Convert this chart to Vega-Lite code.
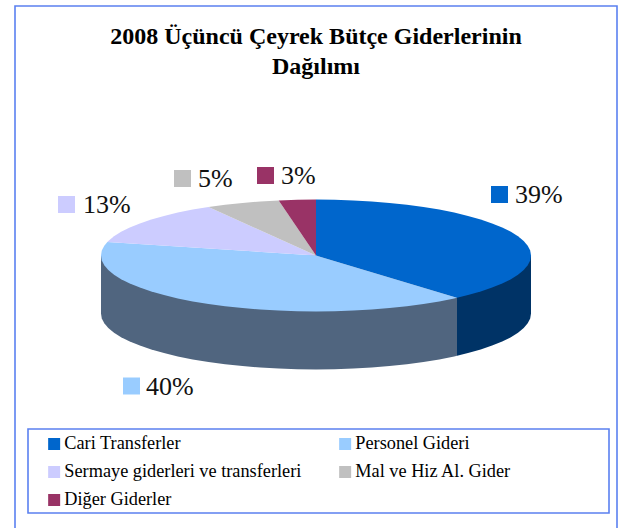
{"$schema":"https://vega.github.io/schema/vega-lite/v6.json","width":618,"height":528,"padding":0,"autosize":{"type":"none"},"background":"white","config":{"view":{"stroke":null},"font":"Liberation Serif"},"title":{"text":["2008 Üçüncü Çeyrek Bütçe Giderlerinin","Dağılımı"],"anchor":"middle","frame":"group","dx":7,"dy":102,"fontSize":24,"fontWeight":"bold","font":"Liberation Serif","color":"black","lineHeight":30,"baseline":"alphabetic"},"datasets":{"frames":[{"name":"outer","x":15,"x2":617,"y":6,"y2":540},{"name":"legend","x":28,"x2":609,"y":429,"y2":513}],"side":[{"s":"Cari Transferler (yan)","i":0,"x":316,"y":255.5},{"s":"Cari Transferler (yan)","i":1,"x":531,"y":255.5},{"s":"Cari Transferler (yan)","i":2,"x":531,"y":313.5},{"s":"Cari Transferler (yan)","i":3,"x":530.2,"y":318.4},{"s":"Cari Transferler (yan)","i":4,"x":527.7,"y":323.2},{"s":"Cari Transferler (yan)","i":5,"x":523.7,"y":328},{"s":"Cari Transferler (yan)","i":6,"x":518,"y":332.7},{"s":"Cari Transferler (yan)","i":7,"x":510.9,"y":337.2},{"s":"Cari Transferler (yan)","i":8,"x":502.2,"y":341.5},{"s":"Cari Transferler (yan)","i":9,"x":492.1,"y":345.6},{"s":"Cari Transferler (yan)","i":10,"x":480.7,"y":349.5},{"s":"Cari Transferler (yan)","i":11,"x":468,"y":353.1},{"s":"Cari Transferler (yan)","i":12,"x":457,"y":355.8},{"s":"Cari Transferler (yan)","i":13,"x":457,"y":297.8},{"s":"Personel Gideri (yan)","i":0,"x":316,"y":255.5},{"s":"Personel Gideri (yan)","i":1,"x":457,"y":297.8},{"s":"Personel Gideri (yan)","i":2,"x":457,"y":355.8},{"s":"Personel Gideri (yan)","i":3,"x":454.2,"y":356.4},{"s":"Personel Gideri (yan)","i":4,"x":439.3,"y":359.4},{"s":"Personel Gideri (yan)","i":5,"x":423.5,"y":362},{"s":"Personel Gideri (yan)","i":6,"x":406.9,"y":364.3},{"s":"Personel Gideri (yan)","i":7,"x":389.5,"y":366.1},{"s":"Personel Gideri (yan)","i":8,"x":371.6,"y":367.6},{"s":"Personel Gideri (yan)","i":9,"x":353.3,"y":368.6},{"s":"Personel Gideri (yan)","i":10,"x":334.7,"y":369.3},{"s":"Personel Gideri (yan)","i":11,"x":316,"y":369.5},{"s":"Personel Gideri (yan)","i":12,"x":297.3,"y":369.3},{"s":"Personel Gideri (yan)","i":13,"x":278.7,"y":368.6},{"s":"Personel Gideri (yan)","i":14,"x":260.4,"y":367.6},{"s":"Personel Gideri (yan)","i":15,"x":242.5,"y":366.1},{"s":"Personel Gideri (yan)","i":16,"x":225.1,"y":364.3},{"s":"Personel Gideri (yan)","i":17,"x":208.5,"y":362},{"s":"Personel Gideri (yan)","i":18,"x":192.7,"y":359.4},{"s":"Personel Gideri (yan)","i":19,"x":177.8,"y":356.4},{"s":"Personel Gideri (yan)","i":20,"x":164,"y":353.1},{"s":"Personel Gideri (yan)","i":21,"x":151.3,"y":349.5},{"s":"Personel Gideri (yan)","i":22,"x":139.9,"y":345.6},{"s":"Personel Gideri (yan)","i":23,"x":129.8,"y":341.5},{"s":"Personel Gideri (yan)","i":24,"x":121.1,"y":337.2},{"s":"Personel Gideri (yan)","i":25,"x":114,"y":332.7},{"s":"Personel Gideri (yan)","i":26,"x":108.3,"y":328},{"s":"Personel Gideri (yan)","i":27,"x":104.3,"y":323.2},{"s":"Personel Gideri (yan)","i":28,"x":101.8,"y":318.4},{"s":"Personel Gideri (yan)","i":29,"x":101,"y":313.5},{"s":"Personel Gideri (yan)","i":30,"x":101,"y":255.5}],"top":[{"s":"Cari Transferler","i":0,"x":316,"y":255.5},{"s":"Cari Transferler","i":1,"x":316,"y":199.5},{"s":"Cari Transferler","i":2,"x":334.7,"y":199.7},{"s":"Cari Transferler","i":3,"x":353.3,"y":200.4},{"s":"Cari Transferler","i":4,"x":371.6,"y":201.4},{"s":"Cari Transferler","i":5,"x":389.5,"y":202.9},{"s":"Cari Transferler","i":6,"x":406.9,"y":204.7},{"s":"Cari Transferler","i":7,"x":423.5,"y":207},{"s":"Cari Transferler","i":8,"x":439.3,"y":209.6},{"s":"Cari Transferler","i":9,"x":454.2,"y":212.6},{"s":"Cari Transferler","i":10,"x":468,"y":215.9},{"s":"Cari Transferler","i":11,"x":480.7,"y":219.5},{"s":"Cari Transferler","i":12,"x":492.1,"y":223.4},{"s":"Cari Transferler","i":13,"x":502.2,"y":227.5},{"s":"Cari Transferler","i":14,"x":510.9,"y":231.8},{"s":"Cari Transferler","i":15,"x":518,"y":236.3},{"s":"Cari Transferler","i":16,"x":523.7,"y":241},{"s":"Cari Transferler","i":17,"x":527.7,"y":245.8},{"s":"Cari Transferler","i":18,"x":530.2,"y":250.6},{"s":"Cari Transferler","i":19,"x":531,"y":255.5},{"s":"Cari Transferler","i":20,"x":530.2,"y":260.4},{"s":"Cari Transferler","i":21,"x":527.7,"y":265.2},{"s":"Cari Transferler","i":22,"x":523.7,"y":270},{"s":"Cari Transferler","i":23,"x":518,"y":274.7},{"s":"Cari Transferler","i":24,"x":510.9,"y":279.2},{"s":"Cari Transferler","i":25,"x":502.2,"y":283.5},{"s":"Cari Transferler","i":26,"x":492.1,"y":287.6},{"s":"Cari Transferler","i":27,"x":480.7,"y":291.5},{"s":"Cari Transferler","i":28,"x":468,"y":295.1},{"s":"Cari Transferler","i":29,"x":457,"y":297.8},{"s":"Personel Gideri","i":0,"x":316,"y":255.5},{"s":"Personel Gideri","i":1,"x":457,"y":297.8},{"s":"Personel Gideri","i":2,"x":454.2,"y":298.4},{"s":"Personel Gideri","i":3,"x":439.3,"y":301.4},{"s":"Personel Gideri","i":4,"x":423.5,"y":304},{"s":"Personel Gideri","i":5,"x":406.9,"y":306.3},{"s":"Personel Gideri","i":6,"x":389.5,"y":308.1},{"s":"Personel Gideri","i":7,"x":371.6,"y":309.6},{"s":"Personel Gideri","i":8,"x":353.3,"y":310.6},{"s":"Personel Gideri","i":9,"x":334.7,"y":311.3},{"s":"Personel Gideri","i":10,"x":316,"y":311.5},{"s":"Personel Gideri","i":11,"x":297.3,"y":311.3},{"s":"Personel Gideri","i":12,"x":278.7,"y":310.6},{"s":"Personel Gideri","i":13,"x":260.4,"y":309.6},{"s":"Personel Gideri","i":14,"x":242.5,"y":308.1},{"s":"Personel Gideri","i":15,"x":225.1,"y":306.3},{"s":"Personel Gideri","i":16,"x":208.5,"y":304},{"s":"Personel Gideri","i":17,"x":192.7,"y":301.4},{"s":"Personel Gideri","i":18,"x":177.8,"y":298.4},{"s":"Personel Gideri","i":19,"x":164,"y":295.1},{"s":"Personel Gideri","i":20,"x":151.3,"y":291.5},{"s":"Personel Gideri","i":21,"x":139.9,"y":287.6},{"s":"Personel Gideri","i":22,"x":129.8,"y":283.5},{"s":"Personel Gideri","i":23,"x":121.1,"y":279.2},{"s":"Personel Gideri","i":24,"x":114,"y":274.7},{"s":"Personel Gideri","i":25,"x":108.3,"y":270},{"s":"Personel Gideri","i":26,"x":104.3,"y":265.2},{"s":"Personel Gideri","i":27,"x":101.8,"y":260.4},{"s":"Personel Gideri","i":28,"x":101,"y":255.5},{"s":"Personel Gideri","i":29,"x":101.8,"y":250.6},{"s":"Personel Gideri","i":30,"x":104.3,"y":245.8},{"s":"Personel Gideri","i":31,"x":107.4,"y":242},{"s":"Sermaye giderleri ve transferleri","i":0,"x":316,"y":255.5},{"s":"Sermaye giderleri ve transferleri","i":1,"x":107.4,"y":242},{"s":"Sermaye giderleri ve transferleri","i":2,"x":108.3,"y":241},{"s":"Sermaye giderleri ve transferleri","i":3,"x":114,"y":236.3},{"s":"Sermaye giderleri ve transferleri","i":4,"x":121.1,"y":231.8},{"s":"Sermaye giderleri ve transferleri","i":5,"x":129.8,"y":227.5},{"s":"Sermaye giderleri ve transferleri","i":6,"x":139.9,"y":223.4},{"s":"Sermaye giderleri ve transferleri","i":7,"x":151.3,"y":219.5},{"s":"Sermaye giderleri ve transferleri","i":8,"x":164,"y":215.9},{"s":"Sermaye giderleri ve transferleri","i":9,"x":177.8,"y":212.6},{"s":"Sermaye giderleri ve transferleri","i":10,"x":192.7,"y":209.6},{"s":"Sermaye giderleri ve transferleri","i":11,"x":208.5,"y":207},{"s":"Mal ve Hiz Al. Gider","i":0,"x":316,"y":255.5},{"s":"Mal ve Hiz Al. Gider","i":1,"x":208.5,"y":207},{"s":"Mal ve Hiz Al. Gider","i":2,"x":225.1,"y":204.7},{"s":"Mal ve Hiz Al. Gider","i":3,"x":242.5,"y":202.9},{"s":"Mal ve Hiz Al. Gider","i":4,"x":260.4,"y":201.4},{"s":"Mal ve Hiz Al. Gider","i":5,"x":278.7,"y":200.4},{"s":"Diğer Giderler","i":0,"x":316,"y":255.5},{"s":"Diğer Giderler","i":1,"x":278.7,"y":200.4},{"s":"Diğer Giderler","i":2,"x":297.3,"y":199.7},{"s":"Diğer Giderler","i":3,"x":316,"y":199.5}],"labels":[{"s":"Cari Transferler","share":0.39,"kx":499.5,"ky":194.5,"tx":515,"ty":203},{"s":"Personel Gideri","share":0.40,"kx":131.5,"ky":386,"tx":146,"ty":395},{"s":"Sermaye giderleri ve transferleri","share":0.13,"kx":66.5,"ky":204.5,"tx":83,"ty":213},{"s":"Mal ve Hiz Al. Gider","share":0.05,"kx":182.5,"ky":178.5,"tx":198,"ty":187},{"s":"Diğer Giderler","share":0.03,"kx":265.5,"ky":175.5,"tx":281,"ty":184}]},"layer":[{"data":{"name":"frames"},"mark":{"type":"rect","fill":null,"stroke":"#5B80F0","strokeWidth":1.6,"clip":false},"encoding":{"x":{"field":"x","type":"quantitative","scale":{"domain":[0,618],"nice":false,"zero":false},"axis":null},"x2":{"field":"x2"},"y":{"field":"y","type":"quantitative","scale":{"domain":[528,0],"nice":false,"zero":false},"axis":null},"y2":{"field":"y2"}}},{"data":{"name":"side"},"mark":{"type":"line","filled":true,"interpolate":"linear-closed"},"encoding":{"x":{"field":"x","type":"quantitative"},"y":{"field":"y","type":"quantitative"},"order":{"field":"i","type":"quantitative"},"color":{"field":"s","type":"nominal"}}},{"data":{"name":"top"},"mark":{"type":"line","filled":true,"interpolate":"linear-closed"},"encoding":{"x":{"field":"x","type":"quantitative"},"y":{"field":"y","type":"quantitative"},"order":{"field":"i","type":"quantitative"},"color":{"field":"s","type":"nominal","scale":{"domain":["Cari Transferler","Personel Gideri","Sermaye giderleri ve transferleri","Mal ve Hiz Al. Gider","Diğer Giderler","Cari Transferler (yan)","Personel Gideri (yan)"],"range":["#0066CC","#99CCFF","#CCCCFF","#C0C0C0","#993366","#003366","#50657F"]},"legend":{"values":["Cari Transferler","Personel Gideri","Sermaye giderleri ve transferleri","Mal ve Hiz Al. Gider","Diğer Giderler"],"title":null,"orient":"none","legendX":45,"legendY":430,"direction":"horizontal","columns":2,"columnPadding":34,"rowPadding":0,"clipHeight":28,"symbolType":"square","symbolSize":144,"symbolStrokeWidth":0,"labelFont":"Liberation Serif","labelFontSize":18.3,"labelColor":"black","labelLimit":400,"labelOffset":1,"padding":0}}}},{"data":{"name":"labels"},"mark":{"type":"point","shape":"square","filled":true,"size":289,"opacity":1},"encoding":{"x":{"field":"kx","type":"quantitative"},"y":{"field":"ky","type":"quantitative"},"color":{"field":"s","type":"nominal"}}},{"data":{"name":"labels"},"mark":{"type":"text","align":"left","baseline":"alphabetic","fontSize":26,"font":"Liberation Serif","color":"#111111"},"encoding":{"x":{"field":"tx","type":"quantitative"},"y":{"field":"ty","type":"quantitative"},"text":{"field":"share","type":"quantitative","format":".0%"}}}]}
